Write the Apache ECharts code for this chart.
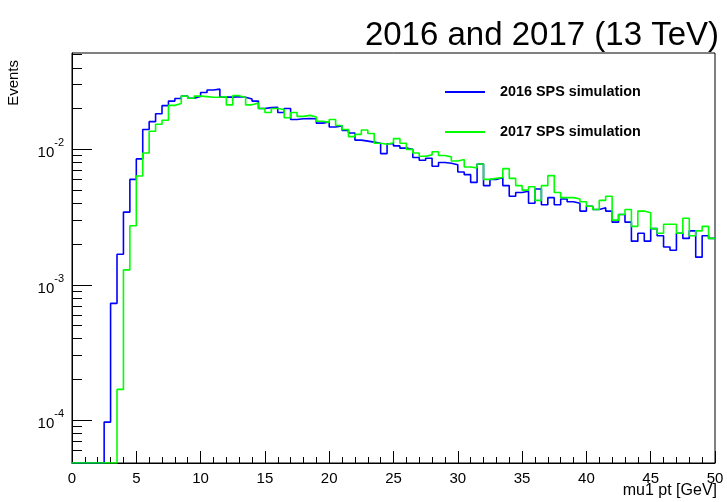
<!DOCTYPE html>
<html><head><meta charset="utf-8">
<script src="https://cdn.jsdelivr.net/npm/echarts@6/dist/echarts.min.js"></script>
<style>html,body{margin:0;padding:0;background:#fff}#c{width:727px;height:502px}</style>
</head><body><div id="c"></div>
<script>
// ---- data ----
const binEdges = [0,0.5,1,1.5,2,2.5,3,3.5,4,4.5,5,5.5,6,6.5,7,7.5,8,8.5,9,9.5,10,10.5,11,11.5,12,12.5,13,13.5,14,14.5,15,15.5,16,16.5,17,17.5,18,18.5,19,19.5,20,20.5,21,21.5,22,22.5,23,23.5,24,24.5,25,25.5,26,26.5,27,27.5,28,28.5,29,29.5,30,30.5,31,31.5,32,32.5,33,33.5,34,34.5,35,35.5,36,36.5,37,37.5,38,38.5,39,39.5,40,40.5,41,41.5,42,42.5,43,43.5,44,44.5,45,45.5,46,46.5,47,47.5,48,48.5,49,49.5,50];
const sps2016 = [0,0,0,0,0,0.000097,0.00073,0.00168,0.00344,0.0060,
  0.0085,0.0140,0.0160,0.0183,0.0210,0.0227,0.0237,0.0247,0.0238,0.0245,
  0.0263,0.0274,0.0278,0.0243,0.0243,0.0245,0.0242,0.0235,0.0227,0.0200,
  0.0203,0.0204,0.0187,0.0200,0.0166,0.0168,0.0169,0.0168,0.0156,0.0159,
  0.0146,0.0149,0.0138,0.0132,0.0117,0.0115,0.0113,0.0111,0.0093,0.0110,
  0.0106,0.0102,0.0100,0.0087,0.0083,0.0086,0.0075,0.0080,0.0079,0.0077,
  0.0068,0.0065,0.0057,0.0078,0.0054,0.0060,0.0062,0.0054,0.0045,0.0048,
  0.0049,0.0040,0.0051,0.0039,0.0044,0.0039,0.0043,0.0041,0.0040,0.0035,
  0.0038,0.0036,0.0037,0.0035,0.0029,0.0033,0.0029,0.0021,0.0024,0.0021,
  0.0026,0.0023,0.0019,0.0018,0.0024,0.0022,0.0025,0.0016,0.0023,0.0022];
const sps2017 = [0,0,0,0,0,0,0,0.000169,0.00129,0.00273,
  0.00635,0.0094,0.0136,0.0153,0.0164,0.0211,0.0218,0.0247,0.0238,0.0247,
  0.0245,0.0242,0.0242,0.0245,0.0213,0.0249,0.0241,0.0213,0.0220,0.0200,
  0.0187,0.0200,0.0197,0.0171,0.0187,0.0175,0.0178,0.0173,0.0161,0.0158,
  0.0166,0.0150,0.0140,0.0124,0.0129,0.0139,0.0131,0.0111,0.0109,0.0112,
  0.0120,0.0111,0.0100,0.0094,0.0089,0.0091,0.0096,0.0090,0.0088,0.0082,
  0.0084,0.0074,0.0073,0.0078,0.0060,0.0061,0.0062,0.0072,0.0061,0.0054,
  0.0050,0.0053,0.0042,0.0054,0.0064,0.0048,0.0044,0.0044,0.0043,0.0041,
  0.0038,0.0036,0.0042,0.0045,0.0030,0.0033,0.0036,0.0027,0.0035,0.0034,
  0.0026,0.0024,0.0028,0.0028,0.0024,0.0031,0.0023,0.0025,0.0027,0.0022];
const seriesNames = ['2016 SPS simulation', '2017 SPS simulation'];
const seriesColors = ['#0000ff', '#00ff00'];
const yRange = [4.84e-5, 0.0514];
const yMinorTicks = [6e-5,7e-5,8e-5,9e-5,2e-4,3e-4,4e-4,5e-4,6e-4,7e-4,8e-4,9e-4,2e-3,3e-3,4e-3,5e-3,6e-3,7e-3,8e-3,9e-3,0.02,0.03,0.04,0.05];
const titleText = '2016 and 2017 (13 TeV)';
const xTitle = 'mu1 pt [GeV]';
const yTitle = 'Events';

// ---- build ----
function stepPoints(vals) {
  const pts = [];
  vals.forEach((v, i) => {
    const y = v > 0 ? v : yRange[0];
    pts.push([binEdges[i], y], [binEdges[i + 1], y]);
  });
  return pts;
}
const FONT = 'Liberation Sans';
const chart = echarts.init(document.getElementById('c'), null, {renderer: 'canvas'});
chart.setOption({
  animation: false,
  backgroundColor: '#fff',
  grid: {left: 72, right: 12, top: 53, bottom: 39, show: true, borderColor: '#000', borderWidth: 1, containLabel: false, outerBoundsMode: 'none'},
  xAxis: {
    type: 'value', min: binEdges[0], max: binEdges[binEdges.length - 1], interval: 5,
    axisLine: {show: true, onZero: false, lineStyle: {color: '#000', width: 1}},
    axisTick: {show: true, inside: true, length: 12, lineStyle: {color: '#000'}},
    minorTick: {show: true, splitNumber: 5, length: 6, lineStyle: {color: '#000'}},
    splitLine: {show: false},
    axisLabel: {fontSize: 15, color: '#000', margin: 8, fontFamily: FONT}
  },
  yAxis: [{
    type: 'log', logBase: 10, min: yRange[0], max: yRange[1],
    axisLine: {show: true, lineStyle: {color: '#000', width: 1}},
    axisTick: {show: true, inside: true, length: 20, lineStyle: {color: '#000'}},
    splitLine: {show: false},
    axisLabel: {
      showMinLabel: false, showMaxLabel: false, margin: 8,
      formatter: v => '{b|10}{s|' + Math.round(Math.log10(v)) + '}',
      rich: {
        b: {fontSize: 15, fontFamily: FONT, color: '#000', padding: [8, 0, 0, 0]},
        s: {fontSize: 11, fontFamily: FONT, color: '#000', verticalAlign: 'top'}
      }
    }
  }, {
    type: 'value', min: Math.log10(yRange[0]), max: Math.log10(yRange[1]), position: 'left',
    axisLine: {show: false}, axisLabel: {show: false}, splitLine: {show: false},
    axisTick: {show: true, inside: true, length: 10, lineStyle: {color: '#000'}, customValues: yMinorTicks.map(v => Math.log10(v))}
  }],
  legend: {
    left: 440, top: 80, orient: 'vertical', itemWidth: 40, itemHeight: 2, itemGap: 26, icon: 'rect',
    textStyle: {fontSize: 14.4, fontWeight: 'bold', color: '#000', fontFamily: FONT, padding: [0, 0, 0, 10]},
    data: seriesNames
  },
  series: [sps2016, sps2017].map((vals, k) => ({
    name: seriesNames[k], type: 'line', data: stepPoints(vals), yAxisIndex: 0,
    showSymbol: false, symbol: 'none', clip: true, color: seriesColors[k],
    lineStyle: {color: seriesColors[k], width: 1.6}, z: 2 + k
  })),
  graphic: [
    {type: 'text', right: 8, top: 19, style: {text: titleText, font: '33px "Liberation Sans"', fill: '#000'}},
    {type: 'text', right: 10, top: 483, style: {text: xTitle, font: '16px "Liberation Sans"', fill: '#000'}},
    {type: 'text', left: 6, top: 60, rotation: Math.PI / 2, style: {text: yTitle, font: '15px "Liberation Sans"', fill: '#000'}}
  ]
});
</script></body></html>
